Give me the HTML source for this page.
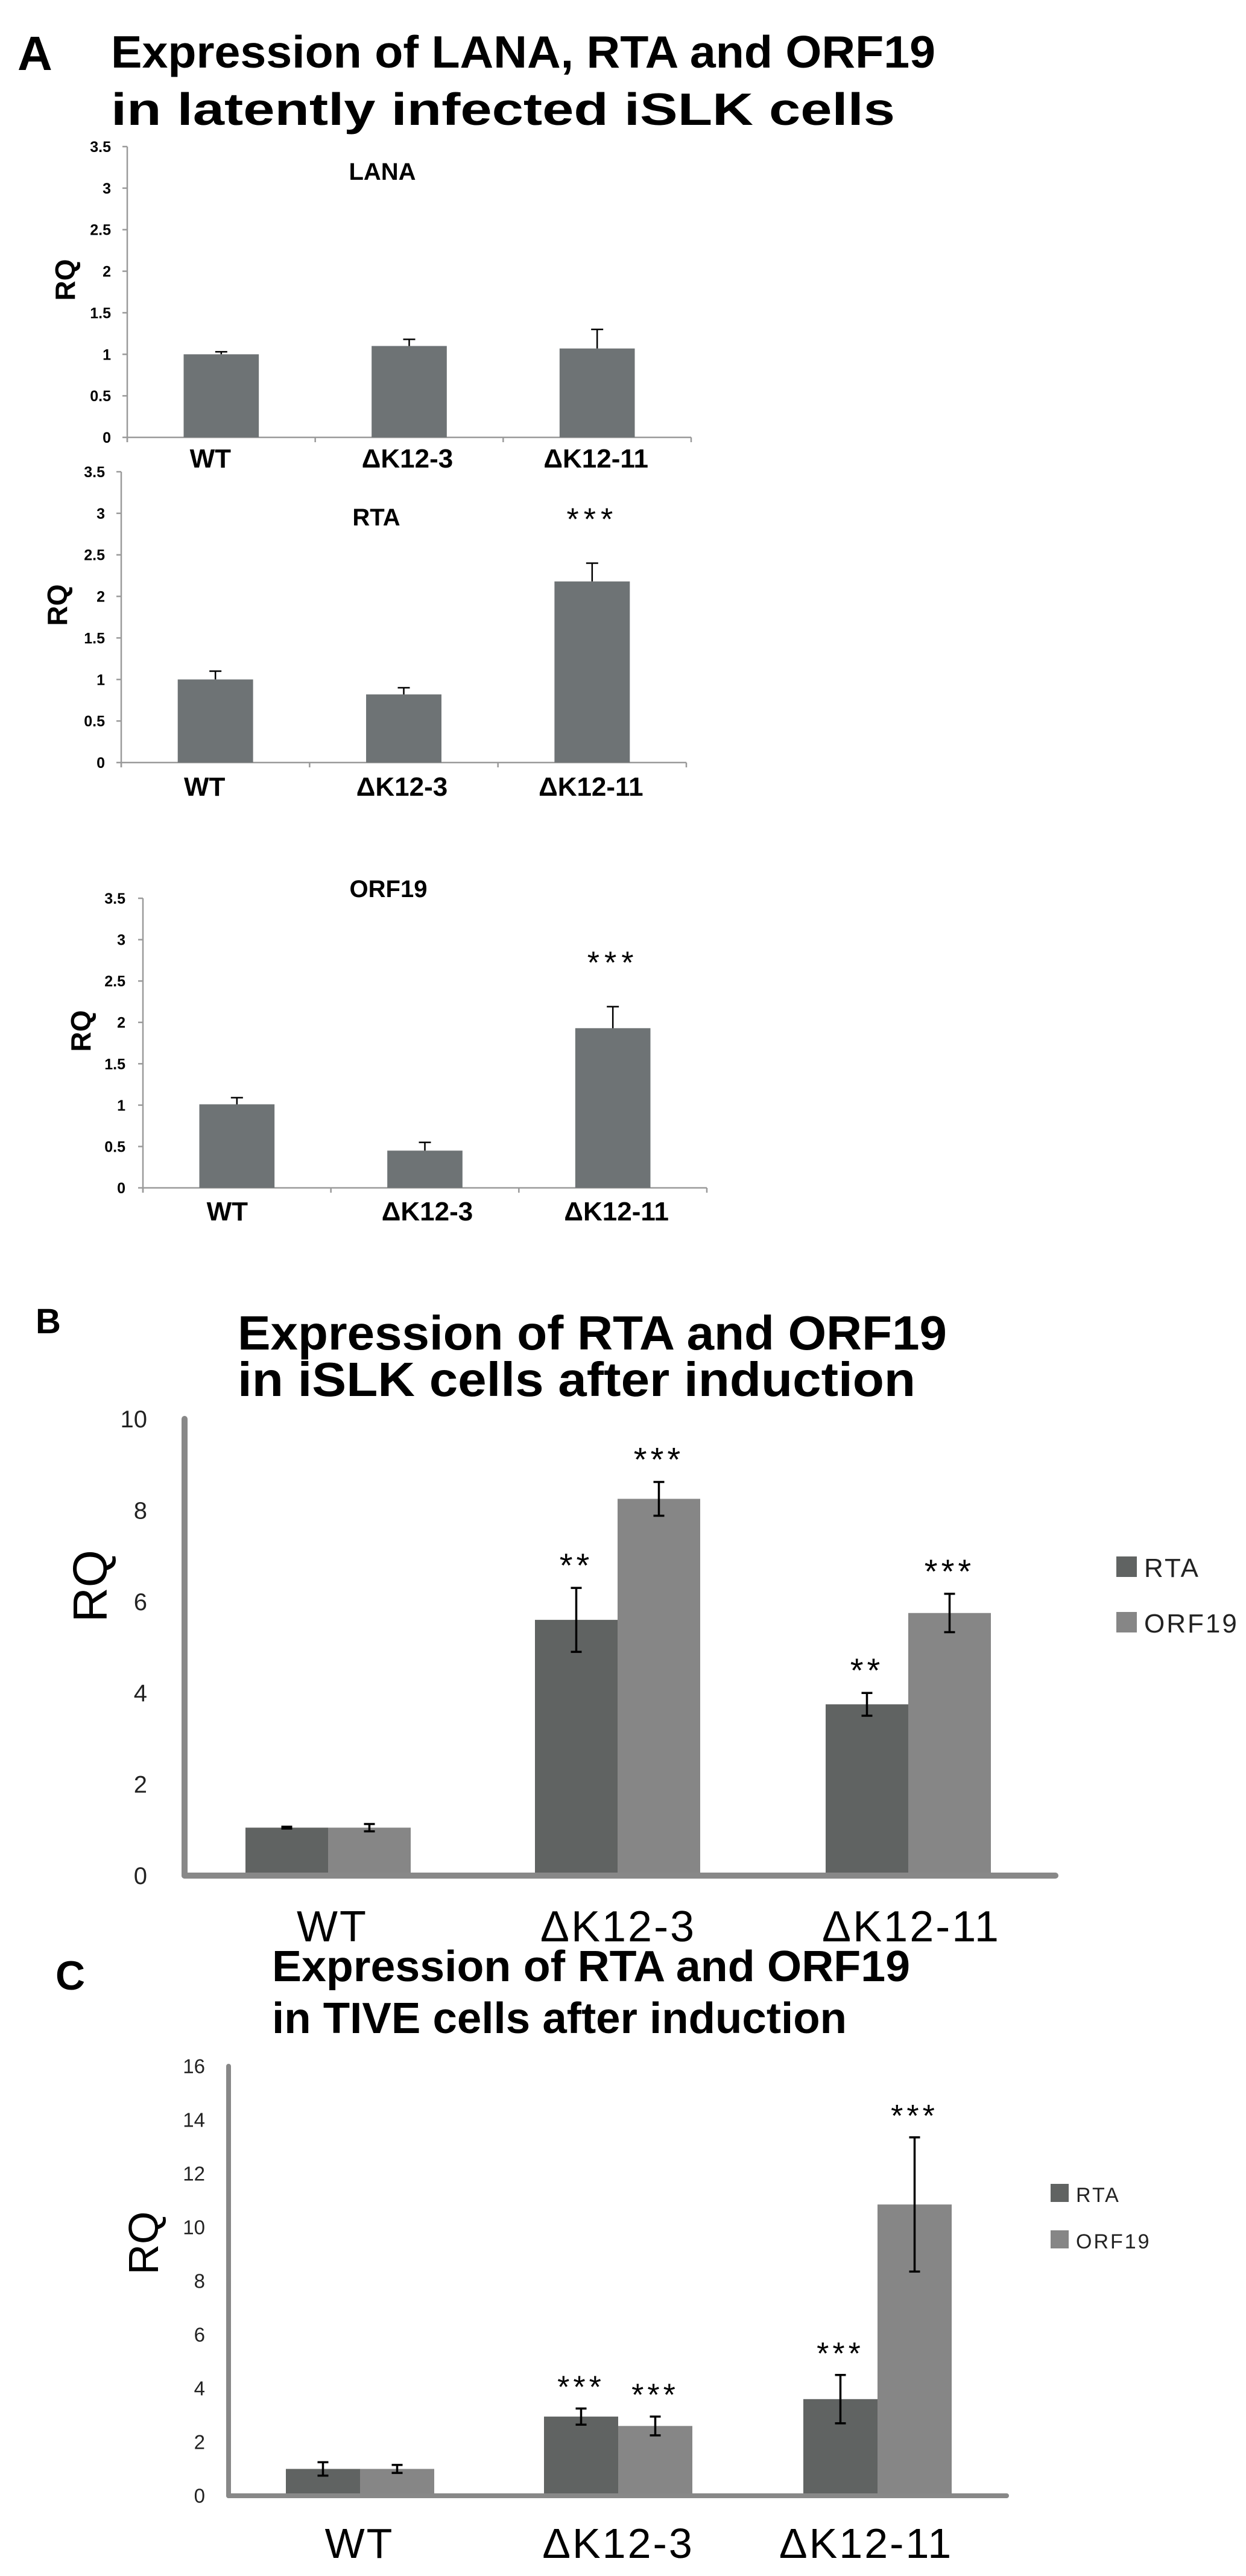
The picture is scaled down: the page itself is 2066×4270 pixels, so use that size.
<!DOCTYPE html>
<html><head><meta charset="utf-8"><style>
html,body{margin:0;padding:0;background:#fff;}
svg{display:block;font-family:"Liberation Sans",sans-serif;}
</style></head><body>
<svg id="fig" width="2066" height="4270" viewBox="0 0 2066 4270" xmlns="http://www.w3.org/2000/svg">
<rect width="2066" height="4270" fill="#fff"/>
<text x="29" y="116" font-size="80" font-weight="bold">A</text>
<text x="184" y="112" font-size="75" font-weight="bold" textLength="1367" lengthAdjust="spacingAndGlyphs">Expression of LANA, RTA and ORF19</text>
<text x="184" y="207" font-size="75" font-weight="bold" textLength="1300" lengthAdjust="spacingAndGlyphs">in latently infected iSLK cells</text>
<text x="59" y="2210" font-size="58" font-weight="bold">B</text>
<text x="394" y="2237" font-size="80" font-weight="bold" textLength="1176" lengthAdjust="spacingAndGlyphs">Expression of RTA and ORF19</text>
<text x="394" y="2314" font-size="80" font-weight="bold" textLength="1124" lengthAdjust="spacingAndGlyphs">in iSLK cells after induction</text>
<text x="92" y="3298" font-size="68" font-weight="bold">C</text>
<text x="451" y="3284" font-size="72" font-weight="bold" textLength="1058" lengthAdjust="spacingAndGlyphs">Expression of RTA and ORF19</text>
<text x="451" y="3370" font-size="72" font-weight="bold" textLength="953" lengthAdjust="spacingAndGlyphs">in TIVE cells after induction</text>
</svg>
<script>
// ---- data ----
const categories = ["WT", "\u0394K12-3", "\u0394K12-11"];
const ticksA = ["0","0.5","1","1.5","2","2.5","3","3.5"];
const ticksB = ["0","2","4","6","8","10"];
const ticksC = ["0","2","4","6","8","10","12","14","16"];
const lanaVals = [1.0, 1.1, 1.07];
const lanaErr = [0.03, 0.08, 0.23];
const rtaAVals = [1.0, 0.82, 2.18];
const rtaAErr = [0.1, 0.08, 0.22];
const orf19AVals = [1.01, 0.45, 1.93];
const orf19AErr = [0.08, 0.1, 0.26];
const rtaASig = ["", "", "***"];
const orf19ASig = ["", "", "***"];
const seriesNames = ["RTA", "ORF19"];
const bRtaVals = [1.05, 5.6, 3.75];
const bRtaErr = [0.02, 0.7, 0.25];
const bOrfVals = [1.05, 8.25, 5.75];
const bOrfErr = [0.08, 0.37, 0.42];
const bRtaSig = ["", "**", "**"];
const bOrfSig = ["", "***", "***"];
const cRtaVals = [1.0, 2.95, 3.6];
const cRtaErr = [0.25, 0.3, 0.9];
const cOrfVals = [1.0, 2.6, 10.85];
const cOrfErr = [0.15, 0.35, 2.5];
const cRtaSig = ["", "***", "***"];
const cOrfSig = ["", "***", "***"];

const svg = document.getElementById('fig');
const NS = "http://www.w3.org/2000/svg";
function mk(tag, attrs, parent) {
  const e = document.createElementNS(NS, tag);
  for (const k in attrs) e.setAttribute(k, attrs[k]);
  (parent || svg).appendChild(e);
  return e;
}
function txt(s, attrs, parent) { const e = mk('text', attrs, parent); e.textContent = s; return e; }

// ---- Panel A small charts ----
function smallChart(id, ax, ay0, ayTop, axRight, ymax, vals, errs, sigs, title, titleX, titleY, tickRight, rq, labelY, labelShift) {
  const g = mk('g', {});
  
  
  const y = v => ay0 - v / ymax * (ay0 - ayTop);
  const band = (axRight - ax) / categories.length;
  const x = i => ax + band * (i + 0.5);
  const bw = band * 0.4;
  // axes
  const yAxis = mk('line', {x1: ax, y1: ayTop, x2: ax, y2: ay0 + 8, stroke: '#9a9a9a', 'stroke-width': 2.5}, g);
  
  
  const xAxis = mk('line', {x1: ax, y1: ay0, x2: axRight, y2: ay0, stroke: '#9a9a9a', 'stroke-width': 2.5}, g);
  
  
  for (let i = 0; i <= categories.length; i++) {
    mk('line', {x1: ax + band * i, y1: ay0, x2: ax + band * i, y2: ay0 + 8, stroke: '#9a9a9a', 'stroke-width': 2.5}, g);
  }
  ticksA.forEach(t => {
    const v = parseFloat(t);
    mk('line', {x1: ax - 8, y1: y(v), x2: ax, y2: y(v), stroke: '#9a9a9a', 'stroke-width': 2.5}, g);
    const tl = txt(t, {x: tickRight, y: y(v) + 9, 'font-size': 25, 'font-weight': 'bold', 'text-anchor': 'end'}, g);
    
    
  });
  vals.forEach((v, i) => {
    const b = mk('rect', {x: x(i) - bw / 2, y: y(v), width: bw, height: ay0 - y(v), fill: '#6e7375'}, g);
    
    
    const et = y(v + errs[i]);
    const el = mk('path', {d: `M${x(i)} ${y(v)} V${et} M${x(i) - 10} ${et} H${x(i) + 10}`, stroke: '#000', 'stroke-width': 2.5, fill: 'none'}, g);
    
    
    if (sigs[i]) {
      const s = txt(sigs[i], {x: x(i), y: y(v + errs[i]) - 55, 'font-size': 52, 'text-anchor': 'middle', 'letter-spacing': 8}, g);
      
      
    }
    const cl = txt(categories[i], {x: x(i) + labelShift[i], y: labelY, 'font-size': 44, 'font-weight': 'bold', 'text-anchor': 'middle'}, g);
    
    
  });
  const t = txt(title, {x: titleX, y: titleY, 'font-size': 40, 'font-weight': 'bold', 'text-anchor': 'middle'}, g);
  
  
  const r = txt('RQ', {x: 0, y: 0, 'font-size': 46, 'font-weight': 'bold', 'text-anchor': 'middle', transform: `translate(${rq[0] + 16},${rq[1]}) rotate(-90)`}, g);
  
  
}
smallChart('lana', 211, 725, 243, 1146, 3.5, lanaVals, lanaErr, ["", "", ""], 'LANA', 634, 298, 184, [108, 464], 775, [-18, -3, -2]);
smallChart('rta-latent', 201, 1264, 782, 1138, 3.5, rtaAVals, rtaAErr, rtaASig, 'RTA', 624, 871, 174, [95, 1003], 1319, [-18, -3, -2]);
smallChart('orf19-latent', 237, 1969, 1489, 1172, 3.5, orf19AVals, orf19AErr, orf19ASig, 'ORF19', 644, 1487, 208, [134, 1709], 2023, [-16, 4, 6]);

// ---- Panels B & C grouped charts ----
function groupChart(id, o) {
  const g = mk('g', {});
  
  
  const y = v => o.y0 - v / o.ymax * (o.y0 - o.yTop);
  const yAxis = mk('line', {x1: o.ax, y1: o.yTop, x2: o.ax, y2: o.y0, stroke: '#888', 'stroke-width': o.aw, 'stroke-linecap': 'round'}, g);
  
  
  const xAxis = mk('line', {x1: o.ax, y1: o.y0, x2: o.xRight, y2: o.y0, stroke: '#888', 'stroke-width': o.aw, 'stroke-linecap': 'round'}, g);
  
  
  o.ticks.forEach(t => {
    const tl = txt(t, {x: o.tickRight, y: y(parseFloat(t)) + o.tickFs * 0.35, 'font-size': o.tickFs, 'text-anchor': 'end', fill: '#222'}, g);
    
    
  });
  const colors = ['#606362', '#868686'];
  const series = [[o.rv, o.re, o.rs], [o.ov, o.oe, o.os]];
  categories.forEach((c, i) => {
    series.forEach((s, k) => {
      const v = s[0][i], e = s[1][i];
      const bx = o.groupX[i] + (k === 0 ? -o.bw : 0);
      const cx = bx + o.bw / 2;
      const b = mk('rect', {x: bx, y: y(v), width: o.bw, height: o.y0 - y(v) - o.aw / 2, fill: colors[k]}, g);
      
      
      const et = y(v + e), eb = y(v - e);
      const el = mk('path', {d: `M${cx} ${eb} V${et} M${cx - 9} ${et} H${cx + 9} M${cx - 9} ${eb} H${cx + 9}`, stroke: '#000', 'stroke-width': 3.5, fill: 'none'}, g);
      
      
      if (s[2][i]) {
        const st = txt(s[2][i], {x: cx, y: et - o.starGap, 'font-size': o.starFs, 'text-anchor': 'middle', 'letter-spacing': 6}, g);
        
        
      }
    });
    const cl = txt(c, {x: o.labelX[i], y: o.labelY, 'font-size': o.labelFs, 'text-anchor': 'middle', 'letter-spacing': 3}, g);
    
    
  });
  seriesNames.forEach((n, k) => {
    const lg = mk('g', {}, g);
    
    
    mk('rect', {x: o.legX, y: o.legY[k], width: o.legS, height: o.legS, fill: colors[k]}, lg);
    txt(n, {x: o.legX + o.legS + 12, y: o.legY[k] + o.legS, 'font-size': o.legFs, 'letter-spacing': 3, fill: '#222'}, lg);
  });
  const r = txt('RQ', {x: 0, y: 0, 'font-size': o.rqFs, 'text-anchor': 'middle', transform: `translate(${o.rq[0] + o.rqFs * 0.36},${o.rq[1]}) rotate(-90)`}, g);
  
  
}
groupChart('induced-islk', {
  ax: 306, y0: 3109, yTop: 2352, xRight: 1750, ymax: 10, aw: 10, ticks: ticksB, tickRight: 244, tickFs: 40,
  rv: bRtaVals, re: bRtaErr, rs: bRtaSig, ov: bOrfVals, oe: bOrfErr, os: bOrfSig,
  groupX: [544, 1024, 1506], bw: 137, starGap: 18, starFs: 56,
  labelX: [551, 1025, 1511], labelY: 3218, labelFs: 72,
  legX: 1851, legY: [2580, 2672], legS: 34, legFs: 44, rq: [148, 2629], rqFs: 80
});
groupChart('induced-tive', {
  ax: 379, y0: 4137, yTop: 3425, xRight: 1669, ymax: 16, aw: 8, ticks: ticksC, tickRight: 340, tickFs: 33,
  rv: cRtaVals, re: cRtaErr, rs: cRtaSig, ov: cOrfVals, oe: cOrfErr, os: cOrfSig,
  groupX: [597, 1025, 1455], bw: 123, starGap: 18, starFs: 52,
  labelX: [596, 1025, 1436], labelY: 4240, labelFs: 70,
  legX: 1742, legY: [3620, 3697], legS: 30, legFs: 34, rq: [237, 3718], rqFs: 70
});
</script>
</body></html>
